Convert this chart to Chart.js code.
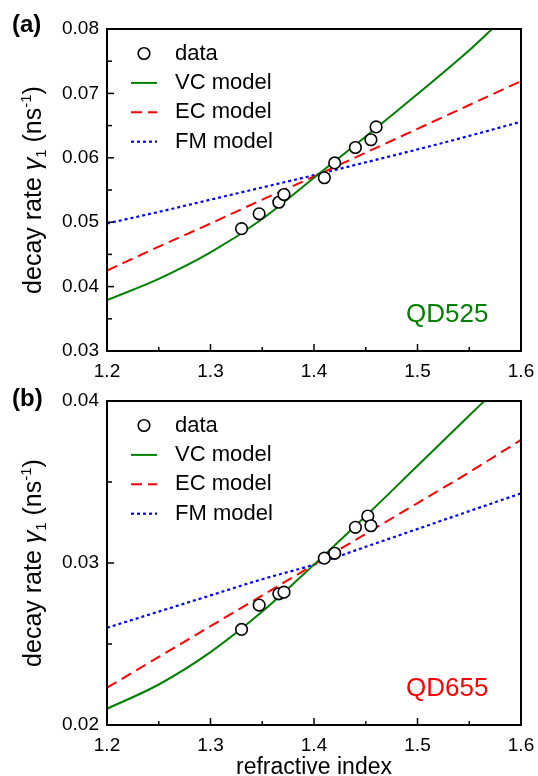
<!DOCTYPE html>
<html lang="en">
<head>
<meta charset="UTF-8">
<title>Decay rate vs refractive index</title>
<script src="https://cdn.jsdelivr.net/npm/chart.js"></script>
<style>
  body { margin: 0; background: #fff; }
  .panel { position: absolute; left: 0; width: 538px; }
  #wrapA { top: 0; height: 380px; }
  #wrapB { top: 380px; height: 396px; }
</style>
</head>
<body>
<div class="panel" id="wrapA"><canvas id="chartA" width="538" height="380"></canvas></div>
<div class="panel" id="wrapB"><canvas id="chartB" width="538" height="396"></canvas></div>
<script>
// refractive index grid for the model curves
const nGrid = [1.2, 1.25, 1.3, 1.35, 1.4, 1.45, 1.5, 1.55, 1.6];

// (a) QD525
const nDataA = [1.33, 1.347, 1.366, 1.371, 1.41, 1.42, 1.44, 1.455, 1.46];
const gammaDataA = [0.0490, 0.0513, 0.0531, 0.0543, 0.0569, 0.0592, 0.0616, 0.0628, 0.0648];
const nVcA = [1.2, 1.25, 1.3, 1.35, 1.4, 1.45, 1.5, 1.55, 1.572];
const vcA = [0.0379, 0.0412, 0.0453, 0.0505, 0.0569, 0.0633, 0.0699, 0.0767, 0.0800];
const ecA = [0.0425, 0.0462, 0.0498, 0.0535, 0.0571, 0.0608, 0.0645, 0.0682, 0.0719];
const fmA = [0.0498, 0.0516, 0.0535, 0.0554, 0.0573, 0.0593, 0.0613, 0.0634, 0.0656];

// (b) QD655
const nDataB = [1.33, 1.347, 1.366, 1.371, 1.41, 1.42, 1.44, 1.452, 1.455];
const gammaDataB = [0.0259, 0.0274, 0.0281, 0.0282, 0.0303, 0.0306, 0.0322, 0.0329, 0.0323];
const nVcB = [1.2, 1.25, 1.3, 1.35, 1.4, 1.45, 1.5, 1.55, 1.5645];
const vcB = [0.0210, 0.0225, 0.0245, 0.0270, 0.0299, 0.0329, 0.0360, 0.0391, 0.0400];
const ecB = [0.0223, 0.0242, 0.0261, 0.0280, 0.0299, 0.0318, 0.0337, 0.0356, 0.0376];
const fmB = [0.0260, 0.0270, 0.0280, 0.0290, 0.0299, 0.0310, 0.0321, 0.0332, 0.0343];

const legendLabels = ['data', 'VC model', 'EC model', 'FM model'];
const xTickLabels = ['1.2', '1.3', '1.4', '1.5', '1.6'];
const yTickLabelsA = ['0.03', '0.04', '0.05', '0.06', '0.07', '0.08'];
const yTickLabelsB = ['0.02', '0.03', '0.04'];

const FONT = '"Liberation Sans", Arial, Helvetica, sans-serif';
const GREEN = '#008000', RED = '#ff0000', BLUE = '#0000ff';
const AREA_LEFT = 107, AREA_RIGHT = 521;

function pts(xs, ys) { return xs.map((v, i) => ({ x: v, y: ys[i] })); }

function fmt(v, labels, d) {
  const s = v.toFixed(d);
  return (labels.includes(s) && Math.abs(parseFloat(s) - v) < 1e-9) ? s : '';
}

function drawYTitle(ctx, cx, cy) {
  const parts = [
    { t: 'decay rate ', f: `25px ${FONT}`, dy: 0 },
    { t: 'γ', f: `italic 25px ${FONT}`, dy: 0 },
    { t: '1', f: `15px ${FONT}`, dy: 5 },
    { t: ' (ns', f: `25px ${FONT}`, dy: 0 },
    { t: '-1', f: `15px ${FONT}`, dy: -10 },
    { t: ')', f: `25px ${FONT}`, dy: 0 }
  ];
  ctx.save();
  ctx.translate(cx, cy);
  ctx.rotate(-Math.PI / 2);
  ctx.textBaseline = 'alphabetic';
  ctx.textAlign = 'left';
  let total = 0;
  parts.forEach(p => { ctx.font = p.f; p.w = ctx.measureText(p.t).width; total += p.w; });
  let x = -total / 2;
  parts.forEach(p => { ctx.font = p.f; ctx.fillText(p.t, x, p.dy); x += p.w; });
  ctx.restore();
}

const framePlugin = {
  id: 'frame',
  afterDraw(chart, args, o) {
    const { ctx, chartArea: a, scales: { x, y } } = chart;
    ctx.save();
    ctx.fillStyle = '#000';
    ctx.strokeStyle = '#000';

    // inward ticks
    ctx.lineWidth = 1.5;
    x.ticks.forEach(t => {
      const px = x.getPixelForValue(t.value);
      const len = fmt(t.value, xTickLabels, 1) ? 7 : 4;
      ctx.beginPath(); ctx.moveTo(px, a.bottom); ctx.lineTo(px, a.bottom - len); ctx.stroke();
    });
    y.ticks.forEach(t => {
      const py = y.getPixelForValue(t.value);
      const len = fmt(t.value, o.yLabels, 2) ? 7 : 5;
      ctx.beginPath(); ctx.moveTo(a.left, py); ctx.lineTo(a.left + len, py); ctx.stroke();
    });

    // box
    ctx.lineWidth = 2;
    ctx.strokeRect(a.left, a.top, a.right - a.left, a.bottom - a.top);

    // legend
    const sets = chart.data.datasets;
    ctx.font = `22px ${FONT}`;
    ctx.textBaseline = 'middle';
    ctx.textAlign = 'left';
    sets.forEach((ds, i) => {
      const ly = a.top + 24.5 + i * 29.4;
      if (i === 0) {
        ctx.setLineDash([]);
        ctx.lineWidth = 1.6;
        ctx.fillStyle = '#fff';
        ctx.beginPath(); ctx.arc(a.left + 37, ly, 5.8, 0, Math.PI * 2); ctx.fill(); ctx.stroke();
      } else {
        ctx.setLineDash(ds.borderDash || []);
        ctx.lineWidth = ds.borderWidth;
        ctx.strokeStyle = ds.borderColor;
        ctx.beginPath(); ctx.moveTo(a.left + 24, ly); ctx.lineTo(a.left + 50, ly); ctx.stroke();
        ctx.strokeStyle = '#000';
      }
      ctx.fillStyle = '#000';
      ctx.fillText(ds.label, a.left + 68, ly);
    });
    ctx.setLineDash([]);

    // sample tag
    ctx.font = `26px ${FONT}`;
    ctx.textBaseline = 'alphabetic';
    ctx.fillStyle = o.tagColor;
    ctx.fillText(o.tag, 406, a.bottom - 29);

    // panel label
    ctx.fillStyle = '#000';
    ctx.font = `bold 24px ${FONT}`;
    ctx.fillText(o.panel, 12, o.panelY);

    // axis titles
    drawYTitle(ctx, 41, (a.top + a.bottom) / 2);
    if (o.xTitle) {
      ctx.font = `23px ${FONT}`;
      ctx.textAlign = 'center';
      ctx.fillText(o.xTitle, (a.left + a.right) / 2, o.xTitleY);
    }
    ctx.restore();
  }
};

function makePanel(id, p) {
  return new Chart(document.getElementById(id), {
    type: 'scatter',
    data: {
      datasets: [
        { label: legendLabels[0], data: pts(p.nData, p.gData), showLine: false,
          pointRadius: 5.8, pointBorderWidth: 1.6, pointBorderColor: '#000', pointBackgroundColor: '#fff' },
        { label: legendLabels[1], data: pts(p.nVc, p.vc), showLine: true, borderColor: GREEN,
          borderWidth: 2, pointRadius: 0, cubicInterpolationMode: 'monotone' },
        { label: legendLabels[2], data: pts(nGrid, p.ec), showLine: true, borderColor: RED,
          borderWidth: 2, borderDash: [11, 6], pointRadius: 0, cubicInterpolationMode: 'monotone' },
        { label: legendLabels[3], data: pts(nGrid, p.fm), showLine: true, borderColor: BLUE,
          borderWidth: 2.2, borderDash: [3, 3], pointRadius: 0, cubicInterpolationMode: 'monotone' }
      ]
    },
    options: {
      responsive: false,
      animation: false,
      events: [],
      layout: { padding: { left: 0, right: 538 - AREA_RIGHT, top: p.top, bottom: 0 } },
      plugins: {
        legend: { display: false },
        tooltip: { enabled: false },
        frame: { yLabels: p.yLabels, tag: p.tag, tagColor: p.tagColor, panel: p.panel,
                 panelY: p.panelY, xTitle: p.xTitle, xTitleY: p.xTitleY }
      },
      scales: {
        x: {
          type: 'linear', min: 1.2, max: 1.6,
          grid: { display: false, drawTicks: false },
          border: { display: false },
          ticks: { stepSize: 0.05, autoSkip: false, maxRotation: 0, padding: 9, color: '#000',
                   font: { family: FONT, size: 19 }, callback: v => fmt(v, xTickLabels, 1) },
          afterFit: s => { s.height = p.height - p.bottom; s.paddingLeft = 0; s.paddingRight = 0; }
        },
        y: {
          type: 'linear', min: p.yMin, max: p.yMax,
          grid: { display: false, drawTicks: false },
          border: { display: false },
          ticks: { stepSize: 0.005, autoSkip: false, padding: 8, color: '#000',
                   font: { family: FONT, size: 19 }, callback: v => fmt(v, p.yLabels, 2) },
          afterFit: s => { s.width = AREA_LEFT; s.paddingTop = 0; s.paddingBottom = 0; }
        }
      }
    },
    plugins: [framePlugin]
  });
}

makePanel('chartA', {
  nData: nDataA, gData: gammaDataA, nVc: nVcA, vc: vcA, ec: ecA, fm: fmA,
  yMin: 0.03, yMax: 0.08, yLabels: yTickLabelsA,
  top: 29, bottom: 351, height: 380,
  tag: 'QD525', tagColor: GREEN, panel: '(a)', panelY: 32
});

makePanel('chartB', {
  nData: nDataB, gData: gammaDataB, nVc: nVcB, vc: vcB, ec: ecB, fm: fmB,
  yMin: 0.02, yMax: 0.04, yLabels: yTickLabelsB,
  top: 21, bottom: 345, height: 396,
  tag: 'QD655', tagColor: RED, panel: '(b)', panelY: 26,
  xTitle: 'refractive index', xTitleY: 394
});
</script>
</body>
</html>
